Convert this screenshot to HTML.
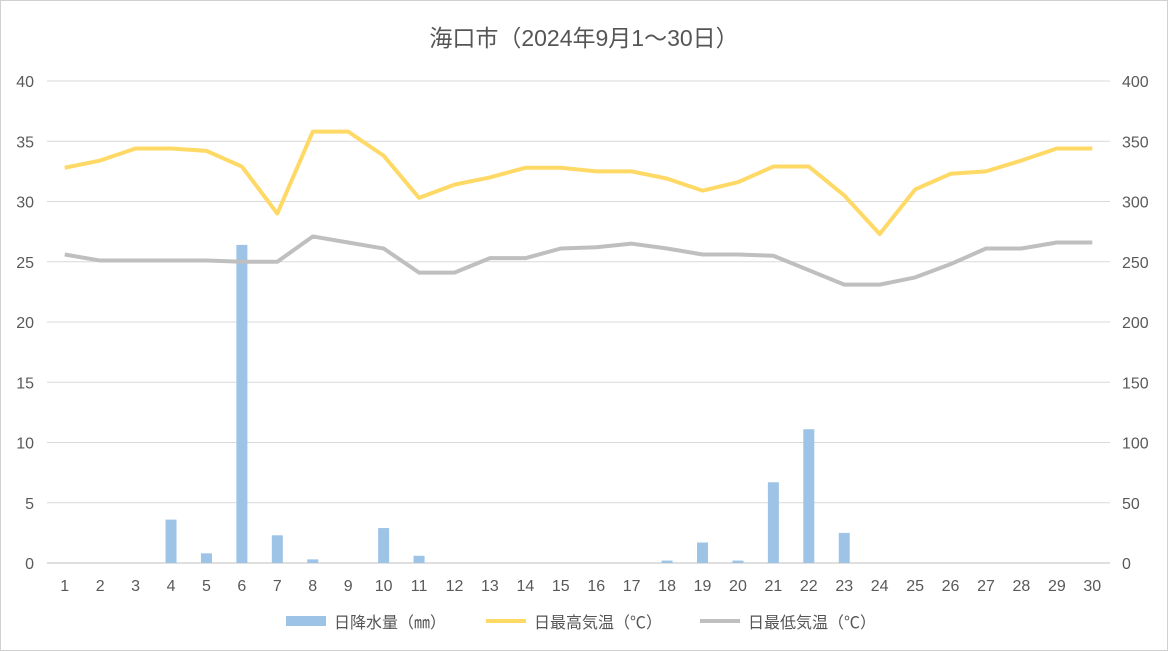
<!DOCTYPE html>
<html><head><meta charset="utf-8"><style>
body{margin:0;background:#fff;}
svg{display:block;font-family:"Liberation Sans","Noto Sans CJK JP",sans-serif;}
</style></head><body>
<svg id="chart" width="1168" height="651">
<rect x="0.5" y="0.5" width="1167" height="650" fill="#fff" stroke="#d0d0d0"/>
<text x="584" y="46" text-anchor="middle" font-size="23" fill="#555">海口市（2024年9月1～30日）</text>
<g id="grid"></g><g id="bars"></g><g id="lines"></g><g id="axes"></g>
<g>
<rect x="286" y="616" width="40" height="10" fill="#9dc3e6"/>
<text x="334" y="628" font-size="16" fill="#555">日降水量（㎜）</text>
<line x1="486" y1="621" x2="526" y2="621" stroke="#ffd966" stroke-width="4"/>
<text x="534" y="628" font-size="16" fill="#555">日最高気温（℃）</text>
<line x1="700" y1="621" x2="740" y2="621" stroke="#bfbfbf" stroke-width="4"/>
<text x="748" y="628" font-size="16" fill="#555">日最低気温（℃）</text>
</g>
</svg>
<script>
const days=[1,2,3,4,5,6,7,8,9,10,11,12,13,14,15,16,17,18,19,20,21,22,23,24,25,26,27,28,29,30];
const precip=[0,0,0,36,8,264,23,3,0,29,6,0,0,0,0,0,0,2,17,2,67,111,25,0,0,0,0,0,0,0];
const highs=[32.8,33.4,34.4,34.4,34.2,32.9,29.0,35.8,35.8,33.8,30.3,31.4,32.0,32.8,32.8,32.5,32.5,31.9,30.9,31.6,32.9,32.9,30.5,27.3,31.0,32.3,32.5,33.4,34.4,34.4];
const lows=[25.6,25.1,25.1,25.1,25.1,25.0,25.0,27.1,26.6,26.1,24.1,24.1,25.3,25.3,26.1,26.2,26.5,26.1,25.6,25.6,25.5,24.3,23.1,23.1,23.7,24.8,26.1,26.1,26.6,26.6];
const leftTicks=[0,5,10,15,20,25,30,35,40];
const rightTicks=[0,50,100,150,200,250,300,350,400];
const NS="http://www.w3.org/2000/svg";
const x0=47,x1=1110,yT=81,yB=563;
const step=(x1-x0)/days.length;
const xs=i=>x0+step*(i+0.5);
const yL=v=>yB-(v/40)*(yB-yT);
const yR=v=>yB-(v/400)*(yB-yT);
function mk(t,a,p){const e=document.createElementNS(NS,t);for(const k in a)e.setAttribute(k,a[k]);p.appendChild(e);return e;}
const grid=document.getElementById('grid'),axes=document.getElementById('axes');
leftTicks.forEach((t,i)=>{
 const l=mk('line',{x1:x0,x2:x1,y1:yL(t),y2:yL(t),stroke:t===0?'#bfbfbf':'#d9d9d9','stroke-width':1},grid);
 
 
 const a=mk('text',{x:34,y:yL(t)+6,'text-anchor':'end','font-size':16,fill:'#595959'},axes);a.textContent=t;
 
 
 const b=mk('text',{x:1122,y:yR(rightTicks[i])+6,'text-anchor':'start','font-size':16,fill:'#595959'},axes);b.textContent=rightTicks[i];
 
 
});
days.forEach((d,i)=>{
 const t=mk('text',{x:xs(i),y:591,'text-anchor':'middle','font-size':16,fill:'#595959'},axes);t.textContent=d;
 
 
});
const bars=document.getElementById('bars');
precip.forEach((v,i)=>{
 if(v<=0)return;
 const r=mk('rect',{x:xs(i)-5.5,y:yR(v),width:11,height:yB-yR(v),fill:'#9dc3e6'},bars);
 
 
});
const lines=document.getElementById('lines');
const p1=mk('polyline',{points:highs.map((v,i)=>xs(i)+','+yL(v)).join(' '),fill:'none',stroke:'#ffd966','stroke-width':4,'stroke-linejoin':'round'},lines);


const p2=mk('polyline',{points:lows.map((v,i)=>xs(i)+','+yL(v)).join(' '),fill:'none',stroke:'#bfbfbf','stroke-width':4,'stroke-linejoin':'round'},lines);


</script>
</body></html>
